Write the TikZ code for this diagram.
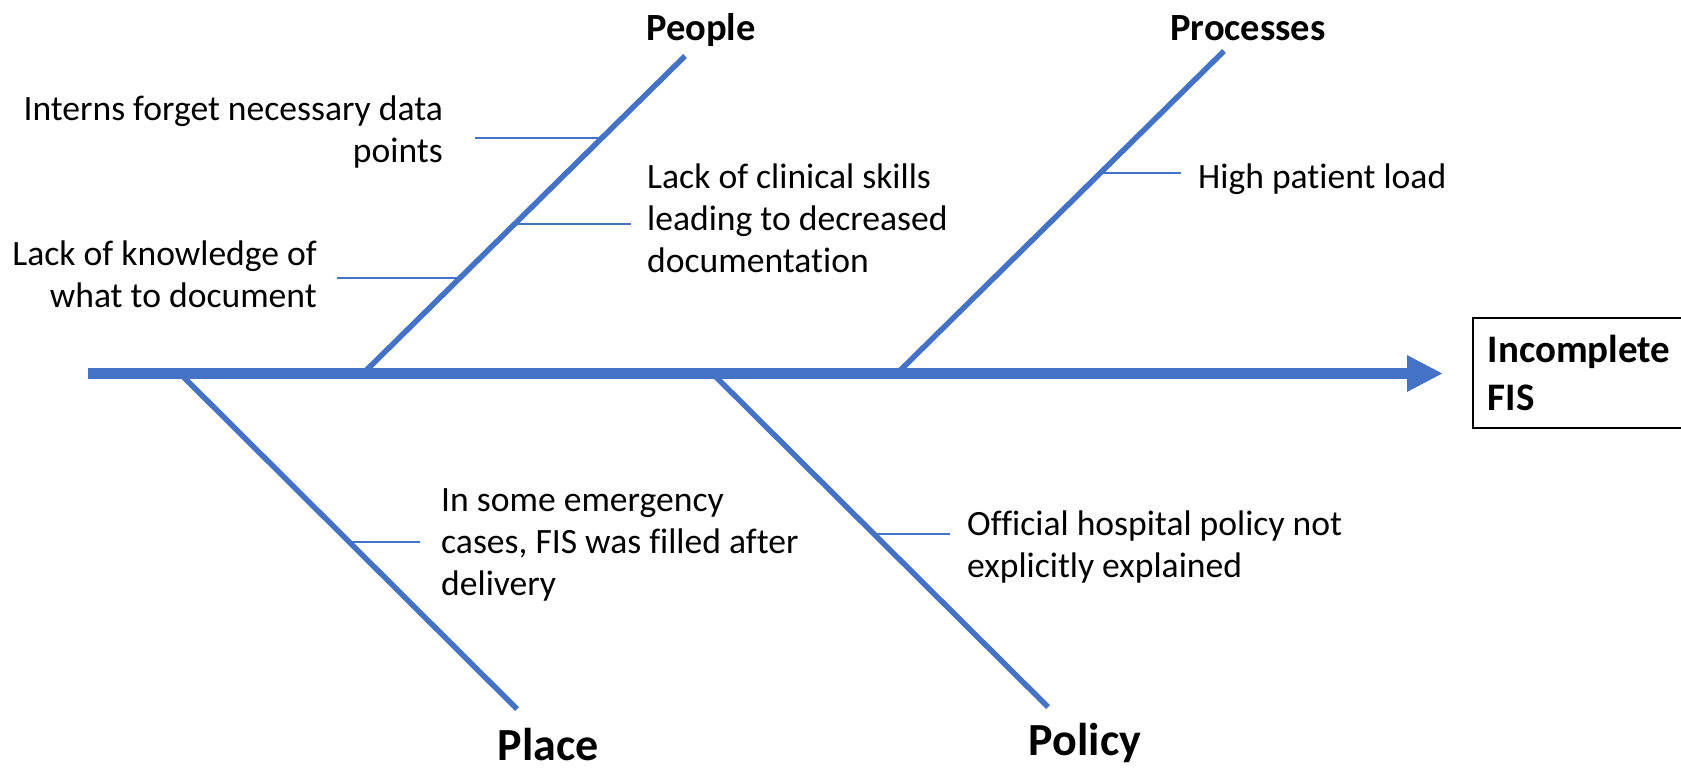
\documentclass[tikz,border=0pt]{standalone}
\usepackage{fontspec}
\setmainfont{Carlito}[Ligatures=NoCommon]
\usetikzlibrary{arrows.meta}
\definecolor{boneblue}{HTML}{4472C4}

\begin{document}
\begin{tikzpicture}[x=1pt,y=-1pt,
    cause node/.style={inner sep=0pt,font=\fontsize{35.6}{42}\selectfont},
    head node/.style={inner sep=0pt,font=\fontsize{38.5}{46}\selectfont\bfseries},
    big head node/.style={inner sep=0pt,font=\fontsize{46}{55}\selectfont\bfseries},
    bone/.style={draw=boneblue,line width=5.5pt},
    rib/.style={draw=boneblue,line width=1.3pt}]
            \useasboundingbox (0,0) rectangle (1681,769);

            \node[draw,line width=1.5pt,anchor=north west,minimum width=215pt,minimum height=110pt,
                  inner xsep=15pt,text width=185pt,align=left,
                  font=\fontsize{39}{48}\selectfont\bfseries] (fis) at (1472,317) {Incomplete\\FIS};

            \node[head node] (people) [anchor=base] at (701,40) {People};
            \node[head node] (proc) [anchor=base] at (1248,40) {Processes};
            \node[big head node] (place) [anchor=base] at (548,760) {Place};
            \node[big head node] (policy) [anchor=base] at (1085,755) {Policy};

            \node[cause node] (c1) [anchor=base east,align=right] at (443,162) {Interns forget necessary data\\points};
            \node[cause node] (c2) [anchor=base east,align=right] at (317,307) {Lack of knowledge of\\what to document};
            \node[cause node] (c3) [anchor=base west,align=left] at (647,272) {Lack of clinical skills\\leading to decreased\\documentation};
            \node[cause node] (c4) [anchor=base west] at (1198,188) {High patient load};
            \node[cause node] (c5) [anchor=base west,align=left] at (441,595) {In some emergency\\cases, FIS was filled after\\delivery};
            \node[cause node] (c6) [anchor=base west,align=left] at (967,577) {Official hospital policy not\\explicitly explained};

            \coordinate (tail) at (88,373.5);
            \coordinate (b1) at (363,373.5);   \coordinate (t1) at (685,56);
            \coordinate (b2) at (897,373.5);   \coordinate (t2) at (1224,51);
            \coordinate (b3) at (180,373.5);   \coordinate (t3) at (517,709);
            \coordinate (b4) at (712.5,373.5); \coordinate (t4) at (1048,707);

            \coordinate (r1a) at (475,138); \coordinate (r1b) at (601,138);
            \coordinate (r2a) at (515,224); \coordinate (r2b) at (631,224);
            \coordinate (r3a) at (337,278); \coordinate (r3b) at (460,278);
            \coordinate (r4a) at (1100,173); \coordinate (r4b) at (1181,173);
            \coordinate (r5a) at (350,542); \coordinate (r5b) at (420,542);
            \coordinate (r6a) at (876,534); \coordinate (r6b) at (950,534);

            \draw[bone,line width=11pt,-{Triangle[length=36pt,width=34pt]},shorten >=29pt] (tail) -- (fis.west |- tail);

            \path[bone]
                (b1) edge (t1)
                (b2) edge (t2)
                (b3) edge (t3)
                (b4) edge (t4)
                ;
            \path[rib]
                (r1a) edge (r1b)
                (r2a) edge (r2b)
                (r3a) edge (r3b)
                (r4a) edge (r4b)
                (r5a) edge (r5b)
                (r6a) edge (r6b)
                ;
        \end{tikzpicture}
\end{document}
